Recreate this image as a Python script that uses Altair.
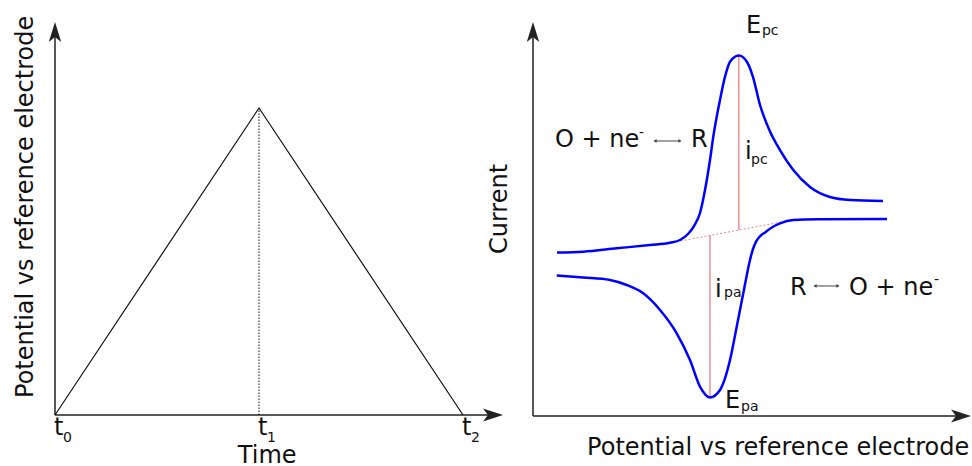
import altair as alt
import pandas as pd

FONT = "DejaVu Sans"
INK = "#111111"
AXIS = "#222222"
BLUE = "#0000ff"
RED = "#e05a5a"

# Arrowhead outlines (tip at the origin)
UP_HEAD = "M0,0 L0.62,2 L0,1.5 L-0.62,2 Z"
RIGHT_HEAD = "M0,0 L-2,-0.65 L-1.5,0 L-2,0.65 Z"

# ---------------- left panel: triangular potential sweep ----------------
sweep_t = [0, 1, 2]          # time, in units of t1
sweep_v = [0, 1, 0]          # potential, relative to the switching potential
tick_t = [0, 1, 2]
tick_sub = ["0", "1", "2"]

# ---------------- right panel: cyclic voltammogram (arbitrary units) ----------------
upper_E = [5.48, 11.48, 19.11, 26.71, 31.28, 33.56, 35.39, 36.76, 38.13, 39.27, 40.41,
           41.16, 41.94, 42.69, 43.84, 44.98, 47.0, 48.86, 50.23, 51.83, 54.11, 56.39,
           59.43, 63.24, 67.81, 72.37, 79.91]
upper_I = [41.50, 41.70, 42.56, 43.40, 43.98, 44.67, 46.19, 48.22, 51.52, 57.36, 64.97,
           70.89, 75.96, 80.20, 86.12, 89.92, 91.5, 89.85, 86.04, 78.93, 72.21, 67.51,
           62.44, 58.12, 55.58, 54.82, 54.57]
lower_E = [5.41, 11.48, 17.58, 21.39, 25.18, 29.00, 32.81, 35.84, 38.13, 40.41, 42.69,
           44.98, 46.51, 48.01, 49.54, 50.2, 50.9, 51.8, 53.0, 54.6, 56.39, 59.43,
           65.0, 80.82]
lower_I = [35.66, 35.15, 34.52, 33.25, 31.14, 26.90, 20.99, 14.21, 7.44, 4.70, 6.60,
           14.21, 22.66, 31.14, 39.59, 42.3, 44.2, 45.6, 46.6, 47.9, 48.9, 49.75,
           49.95, 50.0]
baseline_E = [31.96, 58.68]
baseline_I = [44.06, 49.64]
peak_c = (47.0, 91.5)    # cathodic peak (E_pc, top of i_pc)
peak_a = (40.41, 4.70)   # anodic peak (E_pa, bottom of i_pa)


def base_at(e):
    """Extrapolated background current at potential e."""
    slope = (baseline_I[1] - baseline_I[0]) / (baseline_E[1] - baseline_E[0])
    return baseline_I[0] + slope * (e - baseline_E[0])


def text_layer(df, xs, ys, size, align="left", angle=0, color=INK):
    return alt.Chart(df).mark_text(
        font=FONT, fontSize=size, align=align, baseline="alphabetic",
        angle=angle, color=color
    ).encode(
        x=alt.X("x:Q", scale=xs, axis=None),
        y=alt.Y("y:Q", scale=ys, axis=None),
        text="label:N",
    )


def axis_layers(xs, ys, x_end, x_tip, y_end, y_tip):
    lines = pd.DataFrame({"x0": [0, 0], "x1": [0, x_end], "y0": [0, 0], "y1": [y_end, 0]})
    rules = alt.Chart(lines).mark_rule(color=AXIS, strokeWidth=1.5).encode(
        x=alt.X("x0:Q", scale=xs, axis=None), x2="x1:Q",
        y=alt.Y("y0:Q", scale=ys, axis=None), y2="y1:Q",
    )
    up = alt.Chart(pd.DataFrame({"x": [0], "y": [y_tip]})).mark_point(
        shape=UP_HEAD, size=400, filled=True, opacity=1, color=AXIS, strokeWidth=0
    ).encode(x=alt.X("x:Q", scale=xs, axis=None), y=alt.Y("y:Q", scale=ys, axis=None))
    right = alt.Chart(pd.DataFrame({"x": [x_tip], "y": [0]})).mark_point(
        shape=RIGHT_HEAD, size=400, filled=True, opacity=1, color=AXIS, strokeWidth=0
    ).encode(x=alt.X("x:Q", scale=xs, axis=None), y=alt.Y("y:Q", scale=ys, axis=None))
    return [rules, up, right]


# ---------------- left panel ----------------
lx = alt.Scale(domain=[-0.2696, 2.1127], nice=False, zero=False)
ly = alt.Scale(domain=[-0.1661, 1.3518], nice=False, zero=False)

sweep = alt.Chart(pd.DataFrame({"x": sweep_t, "y": sweep_v})).mark_line(
    color=INK, strokeWidth=1.2
).encode(x=alt.X("x:Q", scale=lx, axis=None), y=alt.Y("y:Q", scale=ly, axis=None))

vertex = alt.Chart(pd.DataFrame({"x": [sweep_t[1]], "y0": [0], "y1": [sweep_v[1]]})).mark_rule(
    color=INK, strokeWidth=1, strokeDash=[1.5, 1.5]
).encode(x=alt.X("x:Q", scale=lx, axis=None), y=alt.Y("y0:Q", scale=ly, axis=None), y2="y1:Q")

tick_main = alt.Chart(pd.DataFrame({"x": tick_t, "y": [-0.065] * 3, "label": ["t"] * 3})).mark_text(
    font=FONT, fontSize=24, align="left", baseline="alphabetic", dx=-1, color=INK
).encode(x=alt.X("x:Q", scale=lx, axis=None), y=alt.Y("y:Q", scale=ly, axis=None), text="label:N")
tick_low = alt.Chart(pd.DataFrame({"x": tick_t, "y": [-0.089] * 3, "label": tick_sub})).mark_text(
    font=FONT, fontSize=14, align="left", baseline="alphabetic", dx=8, color=INK
).encode(x=alt.X("x:Q", scale=lx, axis=None), y=alt.Y("y:Q", scale=ly, axis=None), text="label:N")

time_title = text_layer(pd.DataFrame({"x": [1.04], "y": [-0.157], "label": ["Time"]}), lx, ly, 24, "center")
pot_title = text_layer(
    pd.DataFrame({"x": [-0.108], "y": [0.678], "label": ["Potential vs reference electrode"]}),
    lx, ly, 24, "center", angle=270,
)

left = alt.layer(
    *axis_layers(lx, ly, 2.17, 2.196, 1.25, 1.28),
    sweep, vertex, tick_main, tick_low, time_title, pot_title,
).properties(width=486, height=466)

# ---------------- right panel ----------------
rx = alt.Scale(domain=[-10.731, 100.228], nice=False, zero=False)
ry = alt.Scale(domain=[-12.690, 105.584], nice=False, zero=False)


def curve(E, I):
    return alt.Chart(pd.DataFrame({"x": E, "y": I})).mark_line(
        color=BLUE, strokeWidth=2.5, interpolate="monotone"
    ).encode(x=alt.X("x:Q", scale=rx, axis=None), y=alt.Y("y:Q", scale=ry, axis=None))


background = alt.Chart(pd.DataFrame({"x": baseline_E, "y": baseline_I})).mark_line(
    color="#e58a8a", strokeWidth=1, strokeDash=[2, 2]
).encode(x=alt.X("x:Q", scale=rx, axis=None), y=alt.Y("y:Q", scale=ry, axis=None))

peaks = pd.DataFrame({
    "x": [peak_c[0], peak_a[0]],
    "y0": [peak_c[1], peak_a[1]],
    "y1": [base_at(peak_c[0]), base_at(peak_a[0])],
})
peak_lines = alt.Chart(peaks).mark_rule(color=RED, strokeWidth=1).encode(
    x=alt.X("x:Q", scale=rx, axis=None), y=alt.Y("y0:Q", scale=ry, axis=None), y2="y1:Q"
)

# small double-headed arrows of the half reactions
eq_arrows = pd.DataFrame({"x0": [27.85, 64.38], "x1": [33.56, 69.63], "y": [69.8, 33.0]})
eq_shaft = alt.Chart(eq_arrows).mark_rule(color="#444444", strokeWidth=1).encode(
    x=alt.X("x0:Q", scale=rx, axis=None), x2="x1:Q", y=alt.Y("y:Q", scale=ry, axis=None)
)
eq_left = alt.Chart(eq_arrows).mark_point(
    shape="triangle-left", size=14, filled=True, opacity=1, color="#444444"
).encode(x=alt.X("x0:Q", scale=rx, axis=None), y=alt.Y("y:Q", scale=ry, axis=None))
eq_right = alt.Chart(eq_arrows).mark_point(
    shape="triangle-right", size=14, filled=True, opacity=1, color="#444444"
).encode(x=alt.X("x1:Q", scale=rx, axis=None), y=alt.Y("y:Q", scale=ry, axis=None))

big = pd.DataFrame({
    "x": [48.63, 48.40, 41.55, 43.84, 5.02, 36.07, 58.68, 72.15],
    "y": [97.2, 65.2, 30.2, 2.0, 68.3, 68.3, 30.7, 30.7],
    "label": ["E", "i", "i", "E", "O + ne", "R", "R", "O + ne"],
})
small = pd.DataFrame({
    "x": [52.28, 49.77, 43.61, 47.49, 24.20, 91.55],
    "y": [96.7, 63.96, 30.2, 1.27, 70.81, 33.5],
    "label": ["pc", "pc", "pa", "pa", "-", "-"],
})
x_title = pd.DataFrame({"x": [99.6], "y": [-9.9], "label": ["Potential vs reference electrode"]})
current_title = pd.DataFrame({"x": [-5.94], "y": [52.54], "label": ["Current"]})

right = alt.layer(
    *axis_layers(rx, ry, 99.0, 100.0, 97.0, 100.0),
    background, peak_lines, curve(upper_E, upper_I), curve(lower_E, lower_I),
    eq_shaft, eq_left, eq_right,
    text_layer(big, rx, ry, 24),
    text_layer(small, rx, ry, 14),
    text_layer(x_title, rx, ry, 24, "right"),
    text_layer(current_title, rx, ry, 24, "center", angle=270),
).properties(width=486, height=466)

chart = alt.hconcat(left, right, spacing=0, bounds="flush").properties(
    padding=0, background="white"
).configure_view(stroke=None)

chart.save("out.html", embed_options={"renderer": "svg", "actions": False})
